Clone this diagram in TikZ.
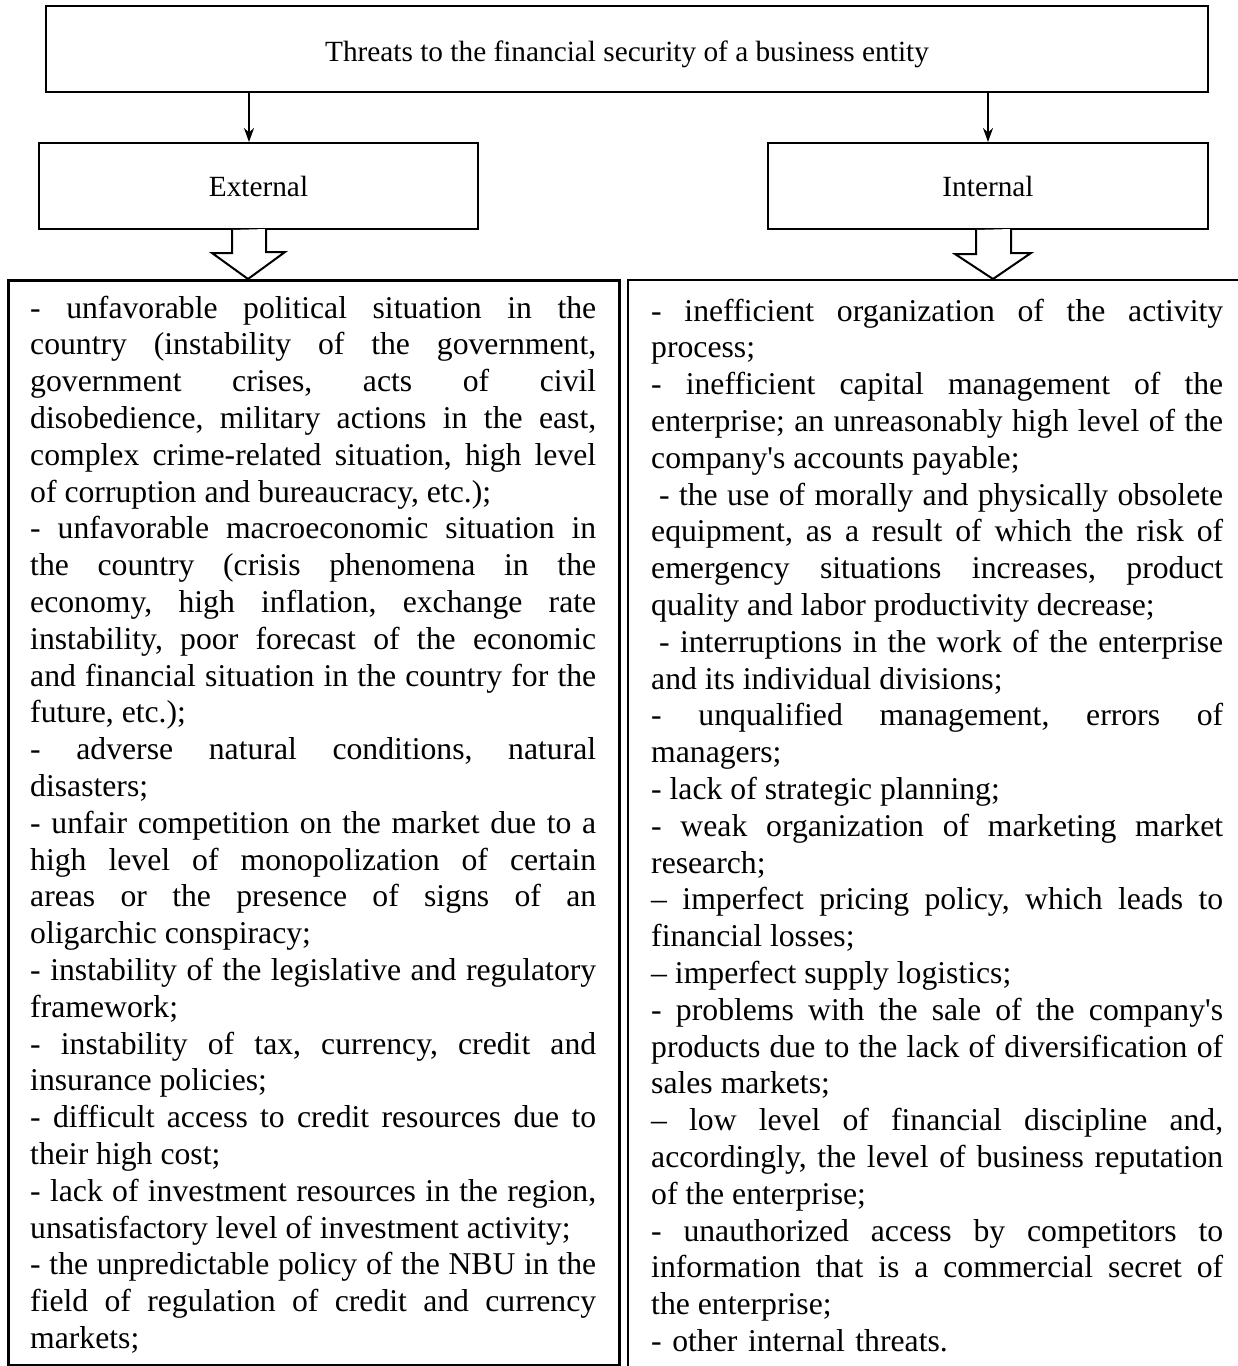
\documentclass[tikz,border=0pt]{standalone}
\usepackage{fontspec}
\setmainfont{Liberation Serif}
\usetikzlibrary{arrows.meta,calc}
\newlength\lcolw \setlength\lcolw{566pt}
\newlength\rcolw \setlength\rcolw{572pt}
\newcommand\jline[2]{\makebox[#1][s]{\spaceskip=0pt\xspaceskip=0pt\frenchspacing #2}\\}
\newcommand\lline[2]{\makebox[#1][l]{\spaceskip=0pt\xspaceskip=0pt\frenchspacing #2}\\}
\newcommand\bodyfont{\fontsize{31.7pt}{36.8pt}\selectfont}
\newcommand\labelfont{\fontsize{29.3pt}{34pt}\selectfont}
\tikzset{
  box/.style={draw, line width=2pt, inner sep=0pt, rectangle},
  labelbox/.style={box, font=\labelfont},
  thinarrow/.style={line width=2pt, -{Stealth[length=14pt,width=10pt]}},
  blockarrow/.style={draw, line width=2pt, fill=white, line join=miter},
  bodytext/.style={inner sep=0pt, align=left, font=\bodyfont, anchor=north west}
}
\begin{document}
\begin{tikzpicture}[x=1pt,y=-1pt]
\useasboundingbox (0,0) rectangle (1238,1366);
\clip (0,0) rectangle (1238,1366);
\fill[white] (0,0) rectangle (1238,1366);

% header boxes
\node[labelbox, minimum width=1162pt, minimum height=86pt, text height=24pt, text depth=0pt] (top) at (627,49) {Threats to the financial security of a business entity};
\node[labelbox, minimum width=439pt, minimum height=86pt, text height=20pt, text depth=0pt] (ext) at (258.5,186) {External};
\node[labelbox, minimum width=440pt, minimum height=86pt, text height=20pt, text depth=0pt] (int) at (988,186) {Internal};

% big boxes
\node[box, line width=2.8pt, anchor=north west, minimum width=611pt, minimum height=1085pt] (lbox) at (7,279) {};
\node[box, anchor=north west, minimum width=650pt, minimum height=1110pt] (rbox) at (627,279) {};

% thin arrows
\coordinate (a1) at (249,0);
\coordinate (a2) at (988,0);
\draw[thinarrow] (top.south -| a1) -- (ext.north -| a1);
\draw[thinarrow] (top.south -| a2) -- (int.north -| a2);

% block arrows
\coordinate (lt) at (248,0);
\coordinate (rt) at (993,0);
\draw[blockarrow] ($(ext.south -| lt)+(-16,0)$) -- ++(0,23) -- ++(-20,0) -- ($(lbox.north -| lt)$) -- ++(37,-27) -- ++(-19,0) -- ++(0,-23);
\draw[blockarrow] ($(int.south -| rt)+(-17,0)$) -- ++(0,24) -- ++(-21,0) -- ($(rbox.north -| rt)$) -- ++(38,-26) -- ++(-20,0) -- ++(0,-24);

% left text
\node[bodytext, text width=\lcolw] (ltext) at (30,292.2) {%
\jline{\lcolw}{\strut- unfavorable political situation in the}
\jline{\lcolw}{country (instability of the government,}
\jline{\lcolw}{government crises, acts of civil}
\jline{\lcolw}{disobedience, military actions in the east,}
\jline{\lcolw}{complex crime-related situation, high level}
\lline{\lcolw}{of corruption and bureaucracy, etc.);}
\jline{\lcolw}{- unfavorable macroeconomic situation in}
\jline{\lcolw}{the country (crisis phenomena in the}
\jline{\lcolw}{economy, high inflation, exchange rate}
\jline{\lcolw}{instability, poor forecast of the economic}
\jline{\lcolw}{and financial situation in the country for the}
\lline{\lcolw}{future, etc.);}
\jline{\lcolw}{- adverse natural conditions, natural}
\lline{\lcolw}{disasters;}
\jline{\lcolw}{- unfair competition on the market due to a}
\jline{\lcolw}{high level of monopolization of certain}
\jline{\lcolw}{areas or the presence of signs of an}
\lline{\lcolw}{oligarchic conspiracy;}
\jline{\lcolw}{- instability of the legislative and regulatory}
\lline{\lcolw}{framework;}
\jline{\lcolw}{- instability of tax, currency, credit and}
\lline{\lcolw}{insurance policies;}
\jline{\lcolw}{- difficult access to credit resources due to}
\lline{\lcolw}{their high cost;}
\jline{\lcolw}{- lack of investment resources in the region,}
\lline{\lcolw}{unsatisfactory level of investment activity;}
\jline{\lcolw}{- the unpredictable policy of the NBU in the}
\jline{\lcolw}{field of regulation of credit and currency}
\makebox[\lcolw][l]{markets;}};

% right text
\node[bodytext, text width=\rcolw] (rtext) at (651,295.2) {%
\jline{\rcolw}{\strut- inefficient organization of the activity}
\lline{\rcolw}{process;}
\jline{\rcolw}{- inefficient capital management of the}
\jline{\rcolw}{enterprise; an unreasonably high level of the}
\lline{\rcolw}{company\textquotesingle s accounts payable;}
\jline{\rcolw}{\hspace{0.25em}- the use of morally and physically obsolete}
\jline{\rcolw}{equipment, as a result of which the risk of}
\jline{\rcolw}{emergency situations increases, product}
\lline{\rcolw}{quality and labor productivity decrease;}
\jline{\rcolw}{\hspace{0.25em}- interruptions in the work of the enterprise}
\lline{\rcolw}{and its individual divisions;}
\jline{\rcolw}{- unqualified management, errors of}
\lline{\rcolw}{managers;}
\lline{\rcolw}{- lack of strategic planning;}
\jline{\rcolw}{- weak organization of marketing market}
\lline{\rcolw}{research;}
\jline{\rcolw}{– imperfect pricing policy, which leads to}
\lline{\rcolw}{financial losses;}
\lline{\rcolw}{– imperfect supply logistics;}
\jline{\rcolw}{- problems with the sale of the company\textquotesingle s}
\jline{\rcolw}{products due to the lack of diversification of}
\lline{\rcolw}{sales markets;}
\jline{\rcolw}{– low level of financial discipline and,}
\jline{\rcolw}{accordingly, the level of business reputation}
\lline{\rcolw}{of the enterprise;}
\jline{\rcolw}{- unauthorized access by competitors to}
\jline{\rcolw}{information that is a commercial secret of}
\lline{\rcolw}{the enterprise;}
\makebox[\rcolw][l]{- other internal threats.}};
\end{tikzpicture}
\end{document}
